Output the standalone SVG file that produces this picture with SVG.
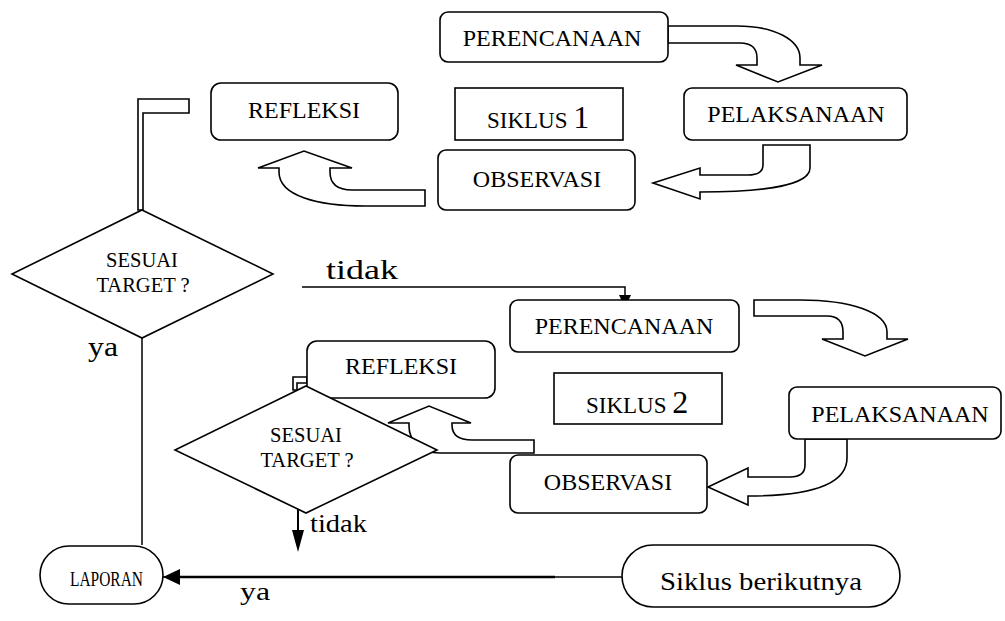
<svg xmlns="http://www.w3.org/2000/svg" width="1005" height="621" viewBox="0 0 1005 621">
<style>
.box{fill:#fff;stroke:#000;stroke-width:1.6}
.blk{fill:#fff;stroke:#000;stroke-width:1.6;stroke-linejoin:miter}
.ln{fill:none;stroke:#000;stroke-width:1.5}
.head{fill:#000;stroke:none}
text{font-family:"Liberation Serif","Times New Roman",serif;fill:#000}
.lb{font-size:24px;text-anchor:middle}
.q{font-size:20.5px;text-anchor:middle}
</style>
<rect width="1005" height="621" fill="#fff"/>

<g id="connectors">
<!-- cycle 1 block arrows -->
<path class="blk" d="M668,26 H737 C775,26 800,40 800,58 V65 H822 L778,82 L736,65 H757 V58 Q757,43 740,43 H668 Z"/>
<path class="blk" d="M763,145 H810 V168 C810,185 765,192 700,192 V199 L653,183 L700,168 V175 H748 Q763,175 763,165 Z"/>
<path class="blk" d="M425,190 V206 H365 C318,206 279,196 279,172 V168 H258 L304,151 L352,168 H330 V172 Q330,190 352,190 Z"/>
<polygon class="blk" points="189,99 138,99 138,210 143,210 143,113 189,113"/>
<!-- cycle 2 block arrows -->
<path class="blk" d="M754,300 H800 C850,300 887,312 887,332 V339 H908 L865,356 L822,339 H843 V332 Q843,316 827,316 H754 Z"/>
<path class="blk" d="M805,439 H847 V458 C847,485 810,496 748,496 V505 L708,487 L748,468 V477 H790 Q805,477 805,465 Z"/>
<path class="blk" d="M534,440 V453 H440 C420,453 409,440 409,426 V423 H388 L429,406 L471,423 H452 V425 Q452,440 472,440 Z"/>
<polygon class="blk" points="307,377 293,377 293,390 297,390 297,383 307,383"/>
<!-- lines -->
<line class="ln" x1="142" y1="338" x2="142" y2="545"/>
<polyline class="ln" points="302,287 625,287 625,298"/>
<path class="head" d="M619,295 L631,295 L625,308 Z"/>
<line x1="298" y1="482" x2="298" y2="535" stroke="#000" stroke-width="2"/>
<path class="head" d="M292,530 L304,530 L298,552 Z"/>
<line class="ln" x1="622" y1="577" x2="143" y2="577"/>
<line x1="180" y1="577" x2="555" y2="577" stroke="#000" stroke-width="2.6"/>
<path class="head" d="M163,577 L180,569 L180,585 Z"/>
</g>

<g id="perencanaan1"><rect class="box" x="440" y="12" width="228" height="50" rx="8"/><text class="lb" x="552" y="46">PERENCANAAN</text></g>
<g id="pelaksanaan1"><rect class="box" x="684" y="88" width="223" height="52" rx="8"/><text class="lb" x="796" y="122">PELAKSANAAN</text></g>
<g id="siklus1"><rect class="box" x="455" y="88" width="168" height="52"/><text x="487" y="128" font-size="23">SIKLUS <tspan font-size="32">1</tspan></text></g>
<g id="observasi1"><rect class="box" x="438" y="150" width="197" height="60" rx="8"/><text class="lb" x="537" y="187">OBSERVASI</text></g>
<g id="refleksi1"><rect class="box" x="211" y="83" width="187" height="57" rx="10"/><text class="lb" x="304" y="118">REFLEKSI</text></g>
<g id="sesuai1"><polygon class="box" points="142,210 273,274 142,338 12,274"/><text class="q" x="142" y="267">SESUAI</text><text class="q" x="143" y="292">TARGET ?</text></g>

<g id="perencanaan2"><rect class="box" x="510" y="300" width="229" height="52" rx="8"/><text class="lb" x="624" y="334">PERENCANAAN</text></g>
<g id="siklus2"><rect class="box" x="554" y="373" width="168" height="51"/><text x="586" y="413" font-size="23">SIKLUS <tspan font-size="32">2</tspan></text></g>
<g id="pelaksanaan2"><rect class="box" x="789" y="387" width="212" height="52" rx="8"/><text class="lb" x="900" y="422">PELAKSANAAN</text></g>
<g id="observasi2"><rect class="box" x="510" y="455" width="197" height="58" rx="8"/><text class="lb" x="608" y="490">OBSERVASI</text></g>
<g id="refleksi2"><rect class="box" x="307" y="341" width="188" height="57" rx="10"/><text class="lb" x="401" y="374">REFLEKSI</text></g>
<g id="sesuai2"><polygon class="box" points="306,386 437,450 306,513 175,450"/><text class="q" x="306" y="442">SESUAI</text><text class="q" x="307" y="467">TARGET ?</text></g>

<g id="laporan"><rect class="box" x="40" y="546" width="123" height="58" rx="29"/><text x="70" y="586" font-size="21" textLength="73" lengthAdjust="spacingAndGlyphs">LAPORAN</text></g>
<g id="siklus-berikutnya"><rect class="box" x="622" y="545" width="278" height="62" rx="31"/><text x="660" y="590" font-size="26" textLength="202" lengthAdjust="spacingAndGlyphs">Siklus berikutnya</text></g>

<g id="labels">
<text x="326" y="279" font-size="28" textLength="72" lengthAdjust="spacingAndGlyphs">tidak</text>
<text x="88" y="356" font-size="27" textLength="30" lengthAdjust="spacingAndGlyphs">ya</text>
<text x="310" y="532" font-size="26" textLength="57" lengthAdjust="spacingAndGlyphs">tidak</text>
<text x="240" y="600" font-size="26" textLength="30" lengthAdjust="spacingAndGlyphs">ya</text>
</g>
</svg>
